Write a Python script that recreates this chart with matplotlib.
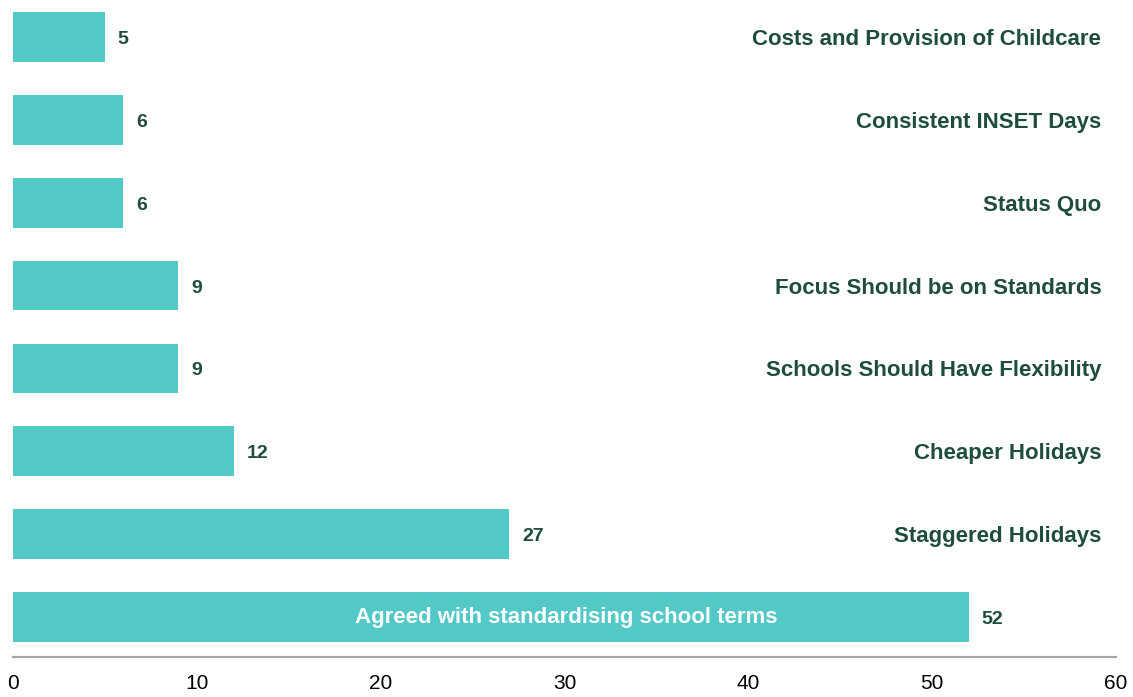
import matplotlib.pyplot as plt

# data, top to bottom in the picture
categories = [
    "Costs and Provision of Childcare",
    "Consistent INSET Days",
    "Status Quo",
    "Focus Should be on Standards",
    "Schools Should Have Flexibility",
    "Cheaper Holidays",
    "Staggered Holidays",
    "Agreed with standardising school terms",
]
values = [5, 6, 6, 9, 9, 12, 27, 52]
x_ticks = [0, 10, 20, 30, 40, 50, 60]

bar_color = "#52C9C7"
text_color = "#1E4D3B"
fonts = ["Liberation Sans", "DejaVu Sans"]

fig = plt.figure(figsize=(11.33, 6.97), dpi=100)
ax = fig.add_axes([13 / 1133, 1 - 657 / 697, 1103 / 1133, 657 / 697])

# bottom bar first
cats = categories[::-1]
vals = values[::-1]
ypos = list(range(len(cats)))

ax.barh(ypos, vals, height=0.6, color=bar_color)

for y, v, c in zip(ypos, vals, cats):
    ax.text(v + 0.7, y - 0.03, str(v), ha="left", va="center",
            fontsize=14, fontweight="bold", color=text_color, family=fonts)
    if y == 0:
        # first category sits inside its bar, in white
        ax.text(30.1, y - 0.01, c, ha="center", va="center",
                fontsize=16, fontweight="bold", color="white", family=fonts)
    else:
        ax.text(59.2, y - 0.03, c, ha="right", va="center",
                fontsize=16, fontweight="bold", color=text_color, family=fonts)

ax.set_xlim(0, 60)
ax.set_ylim(-0.482, 7.446)
ax.set_xticks(x_ticks)
ax.set_xticklabels([str(t) for t in x_ticks], family=fonts, fontsize=15)
ax.tick_params(axis="x", length=0, pad=12, colors="black")
ax.set_yticks([])

for s in ["top", "right", "left"]:
    ax.spines[s].set_visible(False)
ax.spines["bottom"].set_color("#A6A6A6")
ax.spines["bottom"].set_linewidth(1.6)

fig.savefig("out.png", dpi=100)
